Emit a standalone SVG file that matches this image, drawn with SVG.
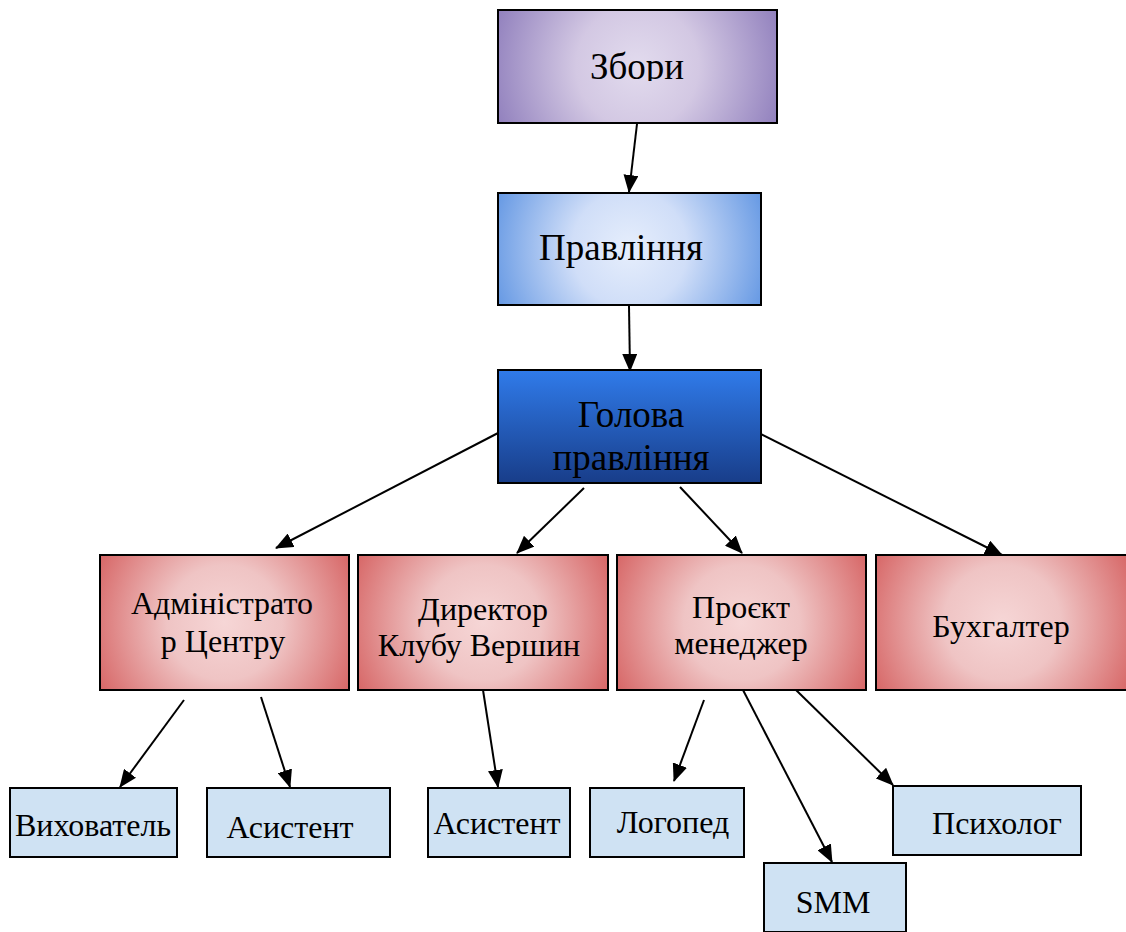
<svg xmlns="http://www.w3.org/2000/svg" width="1126" height="932" viewBox="0 0 1126 932">
<defs>
<radialGradient id="gPurple" cx="0.5" cy="0.5" r="0.55" gradientTransform="translate(0.5,0.5) scale(1,2.47) translate(-0.5,-0.5)">
<stop offset="0" stop-color="#e2dbee"/><stop offset="0.4" stop-color="#d3c8e3"/><stop offset="1" stop-color="#8f7ebc"/>
</radialGradient>
<radialGradient id="gBlue" cx="0.5" cy="0.5" r="0.55" gradientTransform="translate(0.5,0.5) scale(1,2.35) translate(-0.5,-0.5)">
<stop offset="0" stop-color="#e6eefc"/><stop offset="0.4" stop-color="#d0def8"/><stop offset="1" stop-color="#6397e3"/>
</radialGradient>
<linearGradient id="gDark" x1="0" y1="0" x2="0" y2="1">
<stop offset="0" stop-color="#307bea"/><stop offset="1" stop-color="#183d89"/>
</linearGradient>
<radialGradient id="gRed" cx="0.5" cy="0.5" r="0.58" gradientTransform="translate(0.5,0.5) scale(1,1.84) translate(-0.5,-0.5)">
<stop offset="0" stop-color="#f6d6d6"/><stop offset="0.4" stop-color="#efc4c4"/><stop offset="1" stop-color="#d66363"/>
</radialGradient>
<clipPath id="clipZ"><rect x="498" y="10" width="279" height="71"/></clipPath>
<marker id="ah" markerUnits="userSpaceOnUse" markerWidth="18" markerHeight="15" refX="17" refY="7.5" orient="auto">
<path d="M0,0 L18,7.5 L0,15 Z" fill="#000"/>
</marker>
<style>
rect{stroke:#000;stroke-width:2}
.lb{fill:#cfe2f3}
#connectors line{stroke:#000;stroke-width:2;marker-end:url(#ah)}
</style>
</defs>
<g id="connectors">
<line x1="637" y1="124" x2="629" y2="192"/>
<line x1="629" y1="306" x2="630" y2="371"/>
<line x1="500" y1="432" x2="276" y2="548"/>
<line x1="584" y1="488" x2="517" y2="553"/>
<line x1="680" y1="487" x2="742" y2="553"/>
<line x1="755" y1="431" x2="1002" y2="555"/>
<line x1="184" y1="700" x2="120" y2="787"/>
<line x1="261" y1="697" x2="290" y2="787"/>
<line x1="483" y1="690" x2="498" y2="787"/>
<line x1="704" y1="700" x2="674" y2="781"/>
<line x1="743" y1="690" x2="832" y2="862"/>
<line x1="796" y1="690" x2="893" y2="785"/>
</g>
<g font-family="Liberation Serif, Times New Roman, serif" fill="#000" text-anchor="middle">
<g id="zbory"><rect x="498" y="10" width="279" height="113" fill="url(#gPurple)"/><text font-size="37" x="637" y="79" clip-path="url(#clipZ)">Збори</text></g>
<g id="pravlinnia"><rect x="498" y="193" width="263" height="112" fill="url(#gBlue)"/><text font-size="37" x="621" y="260">Правління</text></g>
<g id="holova"><rect x="498" y="370" width="263" height="113" fill="url(#gDark)"/><text font-size="37" x="631" y="427">Голова</text><text font-size="37" x="631" y="470">правління</text></g>
<g id="admin"><rect x="100" y="555" width="249" height="135" fill="url(#gRed)"/><text font-size="32" x="222" y="614">Адміністрато</text><text font-size="32" x="223" y="652">р Центру</text></g>
<g id="director"><rect x="358" y="555" width="250" height="135" fill="url(#gRed)"/><text font-size="32" x="483" y="620">Директор</text><text font-size="32" x="479" y="656">Клубу Вершин</text></g>
<g id="project"><rect x="617" y="555" width="249" height="135" fill="url(#gRed)"/><text font-size="32" x="741" y="618">Проєкт</text><text font-size="32" x="741" y="654">менеджер</text></g>
<g id="buh"><rect x="876" y="555" width="252" height="135" fill="url(#gRed)"/><text font-size="32" x="1001" y="637">Бухгалтер</text></g>
<g id="vyhovatel"><rect class="lb" x="10" y="788" width="167" height="69"/><text font-size="32" x="93" y="836">Вихователь</text></g>
<g id="asyst1"><rect class="lb" x="207" y="788" width="183" height="69"/><text font-size="32" x="290" y="838">Асистент</text></g>
<g id="asyst2"><rect class="lb" x="428" y="788" width="142" height="69"/><text font-size="32" x="497" y="834">Асистент</text></g>
<g id="logoped"><rect class="lb" x="590" y="788" width="154" height="69"/><text font-size="32" x="673" y="833">Логопед</text></g>
<g id="smm"><rect class="lb" x="764" y="863" width="142" height="69"/><text font-size="32" x="833" y="913">SMM</text></g>
<g id="psyholog"><rect class="lb" x="893" y="786" width="188" height="69"/><text font-size="32" x="997" y="834">Психолог</text></g>
</g>
</svg>
